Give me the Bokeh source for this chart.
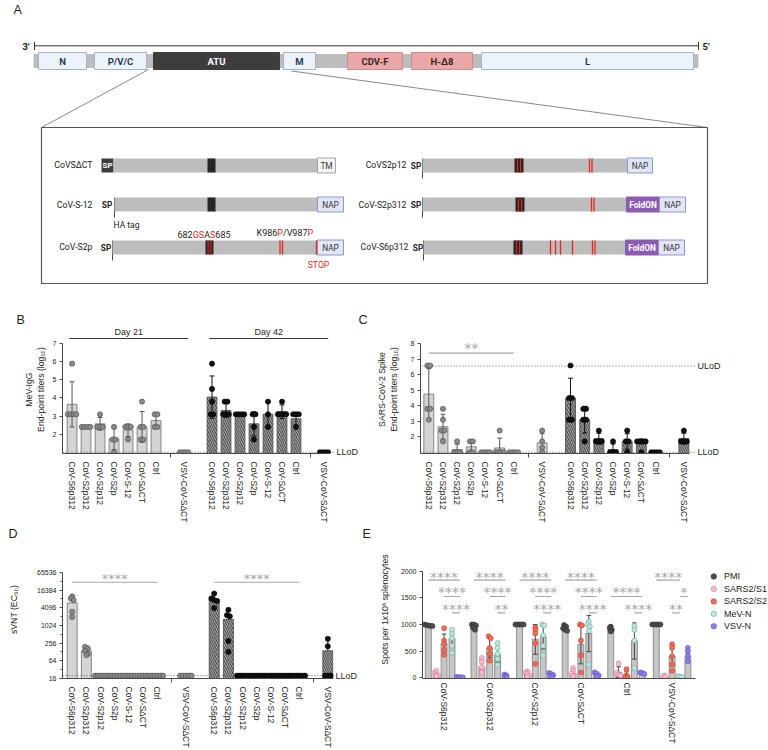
import math
from bokeh.plotting import figure
from bokeh.layouts import column, row
from bokeh.models import Range1d, FixedTicker, LinearAxis, LogAxis
from bokeh.core.properties import value
from bokeh.embed import file_html
from bokeh.resources import INLINE

SANS = "Liberation Sans"
ROBO = "Roboto"
STAR = "DejaVu Sans"

# ---------------- data ----------------
categories = ["CoV-S6p312", "CoV-S2p312", "CoV-S2p12", "CoV-S2p", "CoV-S-12",
              "CoV-SΔCT", "Ctrl", "VSV-CoV-SΔCT"]

# Panel B: MeV IgG end-point titers (log10)
B_d21_points = [[5.9, 3.1, 3.1, 3.1, 3.1], [2.4, 2.4, 2.4, 2.4], [3.1, 2.4, 2.4, 2.4],
                [2.4, 1.7, 1.7, 1.0], [2.4, 2.4, 2.4, 1.7], [3.8, 2.4, 2.4, 1.7, 1.7],
                [3.1, 3.1, 2.4, 2.4], [1.0, 1.0, 1.0, 1.0]]
B_d21_mean = [3.65, 2.4, 2.57, 1.74, 2.22, 2.4, 2.75, 1.0]
B_d21_sd = [1.25, 0.0, 0.35, 0.6, 0.35, 0.85, 0.4, 0.0]
B_d42_points = [[5.9, 4.5, 3.8, 3.1, 3.1], [3.8, 3.8, 3.1, 3.1, 3.1], [3.1, 3.1, 3.1, 3.1],
                [3.1, 3.1, 2.4, 1.7], [3.8, 3.1, 2.4], [3.8, 3.1, 3.1, 3.1, 3.1],
                [3.1, 3.1, 3.1, 2.4], [1.0, 1.0, 1.0, 1.0]]
B_d42_mean = [4.05, 3.31, 3.1, 2.57, 3.1, 3.24, 2.85, 1.0]
B_d42_sd = [1.17, 0.38, 0.0, 0.67, 0.7, 0.38, 0.35, 0.0]
B_lod = 1.0

# Panel C: SARS-CoV-2 Spike end-point titers (log10)
C_d21_points = [[6.6, 6.6, 3.8, 3.8, 3.1], [3.8, 3.1, 2.4, 2.4, 1.7], [1.7, 1.0, 1.0, 1.0],
                [1.7, 1.7, 1.0, 1.0], [1.0, 1.0, 1.0, 1.0], [2.4, 1.0, 1.0, 1.0, 1.0],
                [1.0, 1.0, 1.0, 1.0], [2.4, 1.7, 1.3, 1.0]]
C_d21_mean = [4.75, 2.65, 1.17, 1.35, 1.0, 1.28, 1.0, 1.6]
C_d21_sd = [1.65, 0.8, 0.35, 0.4, 0.0, 0.63, 0.0, 0.6]
C_d42_points = [[6.6, 4.5, 4.5, 3.1, 3.1], [3.8, 3.8, 3.1, 3.1, 1.7], [2.4, 1.7, 1.7, 1.7],
                [1.7, 1.0, 1.0, 1.0], [2.4, 1.7, 1.7, 1.0], [1.7, 1.7, 1.7, 1.7, 1.0],
                [1.0, 1.0, 1.0, 1.0], [2.4, 1.7, 1.7, 1.7]]
C_d42_mean = [4.5, 3.1, 1.88, 1.18, 1.7, 1.7, 1.0, 1.88]
C_d42_sd = [1.28, 0.86, 0.35, 0.35, 0.5, 0.15, 0.0, 0.35]
C_lod, C_ulod = 1.0, 6.56

# Panel D: sVNT EC50
D_d21_points = [[10000, 8500, 7500, 3000, 2000], [190, 170, 140, 110, 100],
                [20, 20, 20, 20, 20], [20, 20, 20, 20, 20], [20, 20, 20, 20, 20],
                [20, 20, 20, 20, 20], [20, 20, 20, 20, 20], [20, 20, 20, 20, 20]]
D_d21_mean = [6000, 140, 20, 20, 20, 20, 20, 20]
D_d21_sd = [4600, 45, 0, 0, 0, 0, 0, 0]
D_d42_points = [[12500, 8500, 7500, 7000, 4000], [3500, 2300, 2100, 300, 130],
                [20, 20, 20, 20, 20], [20, 20, 20, 20, 20], [20, 20, 20, 20, 20],
                [20, 20, 20, 20, 20], [20, 20, 20, 20, 20], [360, 200, 20, 20, 20]]
D_d42_mean = [7700, 1650, 20, 20, 20, 20, 20, 140]
D_d42_sd = [5300, 1900, 0, 0, 0, 0, 0, 260]
D_lod = 20
D_ticks = [16, 64, 256, 1024, 4096, 16384, 65536]
D_minor = [32, 128, 512, 2048, 8192, 32768]

# Panel E: ELISpot
E_groups = ["CoV-S6p312", "CoV-S2p312", "CoV-S2p12", "CoV-SΔCT", "Ctrl", "VSV-CoV-SΔCT"]
E_antigens = ["PMI", "SARS2/S1", "SARS2/S2", "MeV-N", "VSV-N"]
E_fill = ["#4d4d4d", "#f7bcd0", "#f26b55", "#bfe6df", "#8d80ee"]
E_edge = ["#2e2e2e", "#d8769a", "#c2412c", "#5fa99d", "#5b4fc4"]
E_mean = [[985, 70, 640, 740, 10], [965, 200, 560, 430, 30], [1000, 70, 720, 770, 50],
          [935, 80, 630, 830, 55], [920, 105, 50, 690, 85], [1000, 30, 410, 20, 390]]
E_sd = [[15, 40, 180, 140, 5], [35, 120, 175, 135, 20], [0, 40, 280, 230, 30],
        [40, 65, 370, 340, 35], [35, 100, 60, 340, 15], [0, 10, 190, 10, 100]]
E_points = [
    [[1000, 990, 980, 975, 970], [130, 90, 60, 40, 30], [930, 700, 640, 520, 430],
     [900, 820, 740, 600, 470], [15, 10, 8, 5]],
    [[1000, 1000, 980, 940, 900], [370, 300, 200, 110, 90], [780, 740, 560, 450, 320],
     [650, 560, 450, 350, 240], [60, 40, 20, 10]],
    [[1000, 1000, 1000, 1000, 1000], [120, 100, 70, 40, 20], [950, 900, 830, 650, 260],
     [1000, 980, 800, 600, 420], [90, 70, 50, 30, 10]],
    [[990, 960, 930, 900, 880], [180, 130, 80, 40, 20], [1000, 980, 700, 420, 100],
     [1050, 1000, 960, 880, 250], [100, 80, 40, 20]],
    [[960, 940, 900, 870], [270, 90, 60, 40], [160, 40, 20, 10], [970, 900, 700, 180],
     [100, 90, 70]],
    [[1000, 1000, 1000, 1000, 1000], [40, 30, 20], [630, 560, 400, 250, 130], [30, 20, 10],
     [560, 490, 410, 310]],
]
# significance brackets (group, row, from antigen, to antigen, label)
E_sig_group = [0, 0, 0, 1, 1, 1, 2, 2, 2, 3, 3, 3, 4, 4, 5, 5, 5]
E_sig_row = [0, 1, 2, 0, 1, 2, 0, 1, 2, 0, 1, 2, 1, 2, 0, 1, 2]
E_sig_from = [0, 2, 3, 0, 2, 3, 0, 2, 3, 0, 2, 3, 0, 3, 0, 3, 2]
E_sig_to = [4, 4, 4, 4, 4, 4, 4, 4, 4, 4, 4, 4, 4, 4, 3, 4, 3]
E_sig_text = ["****", "****", "****", "****", "****", "**", "****", "****", "****",
              "****", "****", "****", "****", "****", "****", "*", "**"]

# Panel A schematic (genome map, diagram units)
gene_names = ["N", "P/V/C", "ATU", "M", "CDV-F", "H-Δ8", "L"]
gene_start = [38, 94, 153, 283, 347, 411, 481]
gene_end = [86, 146, 279, 315, 402, 472, 693]
gene_kind = ["mev", "mev", "atu", "mev", "cdv", "cdv", "mev"]

# ---------------- helpers ----------------
KIND_FILL = {"mev": "#eef3fa", "atu": "#3d3d3d", "cdv": "#eba7a7"}
KIND_LINE = {"mev": "#9fb4cd", "atu": "#3d3d3d", "cdv": "#c98e8e"}
KIND_TEXT = {"mev": "#1e3a5c", "atu": "#ffffff", "cdv": "#3a2626"}
RED = "#e8261c"


def ptext(p, x, y, t, size=9, color="#222222", align="center", baseline="middle",
          font=ROBO, style="normal"):
    p.text(x=[x], y=[y], text=[t], text_font=value(font), text_font_size=f"{size}px",
           text_color=color, text_align=align, text_baseline=baseline,
           text_font_style=style)


ADV = {**{d: 0.562 for d in "0123456789"}, "G": 0.681, "S": 0.594, "A": 0.652,
       "K": 0.618, "P": 0.631, "V": 0.637, "/": 0.412}


def rich(p, x, y, pieces, size=9):
    cx = x
    for s, col in pieces:
        ptext(p, cx, y, s, size, col, align="left")
        cx += sum(ADV.get(ch, 0.6) for ch in s) * size


def canvas_fig(w, h, x0, x1, y0, y1):
    p = figure(width=w, height=h, x_range=Range1d(x0, x1), y_range=Range1d(y1, y0),
               x_axis_type=None, y_axis_type=None, output_backend="svg",
               toolbar_location=None, min_border=0)
    p.outline_line_color = None
    return p


# ---------------- Panel A ----------------
pa = canvas_fig(768, 325, 0, 768, 0, 325)

ptext(pa, 13, 9, "A", 12.5, "#222", align="left", font=SANS)
ptext(pa, 16, 319, "B", 12.5, "#222", align="left", font=SANS)
ptext(pa, 358, 319, "C", 12.5, "#222", align="left", font=SANS)

pa.segment(x0=[34], y0=[45.3], x1=[698], y1=[45.3], line_color="#333333", line_width=1)
pa.segment(x0=[34, 698], y0=[41.5, 41.5], x1=[34, 698], y1=[49.5, 49.5],
           line_color="#333333", line_width=1)
ptext(pa, 29, 46, "3'", 9.5, "#222", align="right", style="bold")
ptext(pa, 702, 46, "5'", 9.5, "#222", align="left", style="bold")
pa.quad(left=[33], right=[698], top=[53.5], bottom=[67.5], fill_color="#bdbdbd",
        line_color=None)
pa.quad(left=gene_start, right=gene_end, top=[52] * 7, bottom=[69] * 7,
        fill_color=[KIND_FILL[k] for k in gene_kind],
        line_color=[KIND_LINE[k] for k in gene_kind], line_width=1)
pa.text(x=[(a + b) / 2 for a, b in zip(gene_start, gene_end)], y=[60.8] * 7, text=gene_names,
        text_font=value(ROBO), text_font_size="9.5px", text_font_style="bold",
        text_color=[KIND_TEXT[k] for k in gene_kind], text_align="center",
        text_baseline="middle")

pa.segment(x0=[148, 291], y0=[69, 70.5], x1=[41, 707], y1=[127, 127],
           line_color="#6a6a6a", line_width=0.8)
pa.quad(left=[41], right=[707], top=[127], bottom=[283], fill_color=None,
        line_color="#555555", line_width=1.2)


def sbar(l, r, yc):
    pa.quad(left=[l], right=[r], top=[yc - 7], bottom=[yc + 7], fill_color="#bdbdbd",
            line_color=None)


def sblock(l, r, yc, red=True):
    pa.quad(left=[l], right=[r], top=[yc - 7], bottom=[yc + 7], fill_color="#262626",
            line_color=None)
    if red:
        xs = [l + (r - l) * 0.33, l + (r - l) * 0.67]
        pa.segment(x0=xs, y0=[yc - 7] * 2, x1=xs, y1=[yc + 7] * 2, line_color=RED,
                   line_width=1.1)


def sred(xs, yc):
    pa.segment(x0=xs, y0=[yc - 7] * len(xs), x1=xs, y1=[yc + 7] * len(xs),
               line_color=RED, line_width=1.3)


def stag(l, r, yc, name, kind):
    fills = {"TM": ("#f6f6f9", "#a3a3a8", "#333333"), "NAP": ("#e3e6f6", "#8d95c9", "#333333"),
             "FoldON": ("#8c5cb2", "#8c5cb2", "#ffffff")}
    f, lc, tc = fills[kind]
    pa.quad(left=[l], right=[r], top=[yc - 7.5], bottom=[yc + 7.5], fill_color=f,
            line_color=lc, line_width=1)
    ptext(pa, (l + r) / 2, yc + 0.3, name, 8.3, tc, style="bold" if kind == "FoldON" else "normal")


def sp_line(xt, xl, yc):
    ptext(pa, xt, yc, "SP", 8.3, "#222", style="bold")
    pa.segment(x0=[xl], y0=[yc - 7], x1=[xl], y1=[yc + 13], line_color="#444444",
               line_width=1)


# left column
y1, y2, y3 = 165, 204, 247
ptext(pa, 92, y1 - 1, "CoVSΔCT", 8.7, align="right")
pa.quad(left=[101], right=[113], top=[y1 - 7], bottom=[y1 + 7], fill_color="#3d3d3d",
        line_color=None)
ptext(pa, 107, y1 + 0.3, "SP", 8, "#ffffff", style="bold")
sbar(113, 317, y1)
sblock(207, 215, y1, red=False)
stag(317, 335, y1, "TM", "TM")

ptext(pa, 92, y2, "CoV-S-12", 8.7, align="right")
sp_line(106.5, 114, y2)
sbar(114, 317, y2)
sblock(207, 215, y2, red=False)
stag(317, 343, y2, "NAP", "NAP")
ptext(pa, 113, 224, "HA tag", 8.5, align="left")

ptext(pa, 92, y3 - 1, "CoV-S2p", 8.7, align="right")
sp_line(105.5, 112, y3)
sbar(112, 317, y3)
sblock(205, 213, y3)
sred([279.5, 282], y3)
sred([316], y3)
stag(317, 343, y3, "NAP", "NAP")
rich(pa, 177, 234, [("682", "#222"), ("GS", RED), ("A", "#222"), ("S", RED), ("685", "#222")])
rich(pa, 256, 232, [("K986", "#222"), ("P", RED), ("/V987", "#222"), ("P", RED)])
ptext(pa, 318, 264, "STOP", 8.7, RED)

# right column
ptext(pa, 406, y1 - 1, "CoVS2p12", 8.7, align="right")
sp_line(415.5, 422, y1)
sbar(422, 627, y1)
sblock(514, 523, y1)
sred([589, 591.5], y1)
stag(627, 652, y1, "NAP", "NAP")

ptext(pa, 406, y2, "CoV-S2p312", 8.7, align="right")
sp_line(415.5, 422, y2)
sbar(422, 627, y2)
sblock(515, 524, y2)
sred([591, 593.5], y2)
stag(626, 659, y2, "FoldON", "FoldON")
stag(659, 685, y2, "NAP", "NAP")

ptext(pa, 408, y3 - 1, "CoV-S6p312", 8.7, align="right")
sp_line(417.5, 423, y3)
sbar(423, 625, y3)
sblock(513, 522, y3)
sred([550, 555, 560, 572, 592, 594.5], y3)
stag(625, 658, y3, "FoldON", "FoldON")
stag(658, 684, y3, "NAP", "NAP")


# ---------------- chart helpers ----------------
def base_fig(w, h, xr, yr, ml, mr, mt, mb, ytype="linear"):
    p = figure(width=w, height=h, x_range=xr, y_range=yr, y_axis_type=ytype,
               output_backend="svg", toolbar_location=None,
               min_border_left=ml, min_border_right=mr, min_border_top=mt,
               min_border_bottom=mb)
    p.outline_line_color = None
    p.xgrid.visible = False
    p.ygrid.visible = False
    for ax in (p.xaxis[0], p.yaxis[0]):
        ax.axis_line_color = "#4a4a4a"
        ax.major_tick_line_color = "#4a4a4a"
        ax.minor_tick_line_color = "#4a4a4a"
        ax.major_label_text_font = SANS
        ax.major_label_text_font_size = "8.5px"
        ax.major_label_text_color = "#222222"
        ax.axis_label_text_font = SANS
        ax.axis_label_text_font_size = "8.7px"
        ax.axis_label_text_font_style = "normal"
        ax.axis_label_text_color = "#222222"
        ax.major_tick_in = 0
        ax.major_tick_out = 3
        ax.minor_tick_in = 0
        ax.minor_tick_out = 0
        ax.major_label_standoff = 3
    p.yaxis[0].major_label_text_font_size = "7px"
    return p


def lod_axis(p, ticks, labels, log=False):
    ax = (LogAxis if log else LinearAxis)(ticker=FixedTicker(ticks=ticks))
    ax.major_label_overrides = dict(zip(ticks, labels))
    ax.axis_line_color = None
    ax.major_tick_line_color = None
    ax.minor_tick_line_color = None
    ax.major_tick_out = 0
    ax.major_tick_in = 0
    ax.minor_tick_out = 0
    ax.major_label_standoff = 2
    ax.major_label_text_font = SANS
    ax.major_label_text_font_size = "9px"
    ax.major_label_text_color = "#222222"
    p.add_layout(ax, "right")


def cat_xaxis(p, ticks, labels, gaps, bounds):
    ax = p.xaxis[0]
    ax.ticker = FixedTicker(ticks=ticks, minor_ticks=gaps)
    ax.major_label_overrides = {t: l for t, l in zip(ticks, labels)}
    ax.major_label_orientation = "vertical"
    ax.major_tick_out = 0
    ax.minor_tick_out = 4
    ax.major_label_standoff = 4
    ax.bounds = bounds


def draw_bars(p, xs, tops, base, width, hatched):
    kw = dict(x=xs, top=tops, bottom=base, width=width, fill_color="#d4d4d4",
              line_color="#7a7a7a", line_width=0.9)
    if hatched:
        kw.update(hatch_pattern="left_diagonal_line", hatch_color="#3a3a3a",
                  hatch_scale=4.5, hatch_weight=1.2, fill_color="#d0d0d0",
                  line_color="#555555")
    p.vbar(**kw)


def draw_err(p, xs, means, sds, capw, color, up_only=False, floor=None):
    X0, Y0, Y1, CX0, CX1, CY = [], [], [], [], [], []
    for x, m, s in zip(xs, means, sds):
        if s <= 0:
            continue
        lo = m if up_only else m - s
        if floor is not None:
            lo = max(lo, floor)
        hi = m + s
        X0.append(x); Y0.append(lo); Y1.append(hi)
        CX0.append(x - capw / 2); CX1.append(x + capw / 2); CY.append(hi)
        if not up_only and (floor is None or m - s > floor):
            CX0.append(x - capw / 2); CX1.append(x + capw / 2); CY.append(m - s)
    p.segment(x0=X0, y0=Y0, x1=X0, y1=Y1, line_color=color, line_width=1)
    p.segment(x0=CX0, y0=CY, x1=CX1, y1=CY, line_color=color, line_width=1)


def swarm(xs, pts, step, key):
    X, Y = [], []
    for x, vals in zip(xs, pts):
        groups = {}
        for v in vals:
            groups.setdefault(key(v), []).append(v)
        for g in groups.values():
            n = len(g)
            for i, v in enumerate(g):
                X.append(x + (i - (n - 1) / 2) * step)
                Y.append(v)
    return X, Y


def draw_pts(p, xs, pts, step, fill, edge, size=5.2, key=lambda v: round(v, 1)):
    X, Y = swarm(xs, pts, step, key)
    p.scatter(X, Y, size=size, fill_color=fill, line_color=edge, line_width=0.6)


def stars(p, x, y, t, size=14):
    p.text(x=[x], y=[y], text=[t], text_font=value(STAR), text_font_size=f"{size}px",
           text_color="#a6a6a6", text_align="center", text_baseline="middle", y_offset=3)


x21 = list(range(7)) + [8]
x42 = [v + 10 for v in x21]
xticks = x21 + x42
xlabels = categories + categories
gap_ticks = [7, 17]
BW = 0.7

# ---------------- Panel B ----------------
pb = base_fig(361, 200, Range1d(-0.683, 18.75), Range1d(0.93, 8.01), ml=62, mr=23, mt=0, mb=72)
cat_xaxis(pb, xticks, xlabels, gap_ticks, (-0.683, 18.4))
pb.yaxis[0].ticker = FixedTicker(ticks=[2, 3, 4, 5, 6, 7])
pb.yaxis[0].bounds = (0.93, 7)
pb.yaxis[0].axis_label = "MeV-IgG\nEnd-point titers (log₁₀)"
pb.yaxis[0].axis_label_standoff = 4
lod_axis(pb, [B_lod], ["LLoD"])
draw_bars(pb, x21, B_d21_mean, 0.93, BW, False)
draw_bars(pb, x42, B_d42_mean, 0.93, BW, True)
pb.segment(x0=[-0.683], y0=[B_lod], x1=[18.75], y1=[B_lod], line_dash="1 2",
           line_color="#666666", line_width=1)
draw_err(pb, x21, B_d21_mean, B_d21_sd, 0.35, "#555555")
draw_err(pb, x42, B_d42_mean, B_d42_sd, 0.35, "#111111")
draw_pts(pb, x21, B_d21_points, 0.2, "#8a8a8a", "#4a4a4a")
draw_pts(pb, x42, B_d42_points, 0.2, "#111111", "#000000")
for xs, lab in ((x21, "Day 21"), (x42, "Day 42")):
    a, b = xs[0] - 0.2, xs[-1] + 0.3
    pb.segment(x0=[a], y0=[7.29], x1=[b], y1=[7.29], line_color="#333333", line_width=1)
    ptext(pb, (a + b) / 2, 7.63, lab, 9, font=SANS)

# ---------------- Panel C ----------------
pc = base_fig(407, 200, Range1d(-0.586, 18.82), Range1d(0.92, 9.18), ml=59, mr=73, mt=0, mb=72)
cat_xaxis(pc, xticks, xlabels, gap_ticks, (-0.586, 18.4))
pc.yaxis[0].ticker = FixedTicker(ticks=[2, 3, 4, 5, 6, 7, 8])
pc.yaxis[0].bounds = (0.92, 8)
pc.yaxis[0].axis_label = "SARS-CoV-2 Spike\nEnd-point titers (log₁₀)"
pc.yaxis[0].axis_label_standoff = 9
lod_axis(pc, [C_lod, C_ulod], ["LLoD", "ULoD"])
draw_bars(pc, x21, C_d21_mean, 0.92, BW, False)
draw_bars(pc, x42, C_d42_mean, 0.92, BW, True)
for yv in (C_ulod, C_lod):
    pc.segment(x0=[-0.586], y0=[yv], x1=[18.82], y1=[yv], line_dash="1 2",
               line_color="#666666", line_width=1)
draw_err(pc, x21, C_d21_mean, C_d21_sd, 0.35, "#555555")
draw_err(pc, x42, C_d42_mean, C_d42_sd, 0.35, "#111111")
draw_pts(pc, x21, C_d21_points, 0.2, "#8a8a8a", "#4a4a4a")
draw_pts(pc, x42, C_d42_points, 0.2, "#111111", "#000000")
pc.segment(x0=[x21[0]], y0=[7.4], x1=[x21[6]], y1=[7.4], line_color="#a6a6a6", line_width=1.2)
stars(pc, (x21[0] + x21[6]) / 2, 7.9, "**")

# ---------------- strip with panel letters D / E ----------------
pstrip = canvas_fig(768, 15, 0, 768, 525, 540)
ptext(pstrip, 8, 533, "D", 12.5, "#222", align="left", font=SANS)
ptext(pstrip, 362, 533, "E", 12.5, "#222", align="left", font=SANS)

# ---------------- Panel D ----------------
d_top = 2 ** (4 + 140 / 8.97)
pd_ = base_fig(361, 210, Range1d(-0.683, 18.4), Range1d(16, d_top), ml=62, mr=28, mt=0, mb=70,
               ytype="log")
cat_xaxis(pd_, xticks, xlabels, gap_ticks, (-0.683, 18.4))
pd_.yaxis[0].ticker = FixedTicker(ticks=D_ticks, minor_ticks=D_minor)
pd_.yaxis[0].major_label_overrides = {t: str(t) for t in D_ticks}
pd_.yaxis[0].minor_tick_out = 2
pd_.yaxis[0].bounds = (16, 65536)
pd_.yaxis[0].axis_label = "sVNT (EC₅₀)"
pd_.yaxis[0].axis_label_standoff = 15
lod_axis(pd_, [D_lod], ["LLoD"], log=True)
draw_bars(pd_, x21, D_d21_mean, 16, BW, False)
draw_bars(pd_, x42, D_d42_mean, 16, BW, True)
pd_.segment(x0=[-0.683], y0=[D_lod], x1=[18.4], y1=[D_lod], line_dash="1 2",
            line_color="#666666", line_width=1)
draw_err(pd_, x21, D_d21_mean, D_d21_sd, 0.35, "#555555", up_only=True)
draw_err(pd_, x42, D_d42_mean, D_d42_sd, 0.35, "#111111", up_only=True)
lkey = lambda v: round(math.log2(v) * 2)
draw_pts(pd_, x21, D_d21_points, 0.2, "#8a8a8a", "#4a4a4a", key=lkey)
draw_pts(pd_, x42, D_d42_points, 0.2, "#111111", "#000000", key=lkey)
for xs in (x21, x42):
    pd_.segment(x0=[xs[0]], y0=[30260], x1=[xs[6]], y1=[30260], line_color="#a6a6a6",
                line_width=1.2)
    stars(pd_, (xs[0] + xs[6]) / 2, 53000, "****", 13)

# ---------------- Panel E ----------------
E_step = 0.173
pe = base_fig(407, 210, Range1d(-0.474, 7.114), Range1d(-15, 2578), ml=61, mr=0, mt=0, mb=70)
ax = pe.xaxis[0]
ax.ticker = FixedTicker(ticks=list(range(len(E_groups))))
ax.major_label_overrides = {i: g for i, g in enumerate(E_groups)}
ax.major_label_orientation = "vertical"
ax.major_tick_out = 0
ax.major_label_standoff = 4
ax.bounds = (-0.474, 5.52)
pe.yaxis[0].ticker = FixedTicker(ticks=[0, 500, 1000, 1500, 2000])
pe.yaxis[0].bounds = (-15, 2000)
pe.yaxis[0].axis_label = "Spots per 1x10⁶ splenocytes"
pe.yaxis[0].axis_label_standoff = 8

bx, bt = [], []
for g in range(len(E_groups)):
    for a in range(len(E_antigens)):
        bx.append(g + (a - 2) * E_step)
        bt.append(E_mean[g][a])
pe.vbar(x=bx, top=bt, bottom=-15, width=0.13, fill_color="#c6c6c6", line_color="#7c7c7c",
        line_width=0.8)
bsd = [E_sd[g][a] for g in range(len(E_groups)) for a in range(len(E_antigens))]
draw_err(pe, bx, bt, bsd, 0.1, "#444444", floor=0)
ekey = lambda v: round(v / 70)
for a in range(len(E_antigens)):
    xs = [g + (a - 2) * E_step for g in range(len(E_groups))]
    draw_pts(pe, xs, [E_points[g][a] for g in range(len(E_groups))], 0.045,
             E_fill[a], E_edge[a], size=5, key=ekey)

row_line = [1833, 1526, 1217]
row_star = [1957, 1667, 1341]
for g, r, f, t, s in zip(E_sig_group, E_sig_row, E_sig_from, E_sig_to, E_sig_text):
    xa = g + (f - 2) * E_step
    xb = g + (t - 2) * E_step
    pe.segment(x0=[xa], y0=[row_line[r]], x1=[xb], y1=[row_line[r]], line_color="#a6a6a6",
               line_width=1.2)
    stars(pe, (xa + xb) / 2, row_star[r], s, 14)

leg_y = [1902, 1668, 1434, 1200, 966]
pe.scatter([5.914] * 5, leg_y, size=5.5, fill_color=E_fill, line_color=E_edge, line_width=0.6)
pe.text(x=[6.14] * 5, y=leg_y, text=E_antigens, text_font=value(SANS), text_font_size="9px",
        text_color="#222222", text_align="left", text_baseline="middle")

layout = column(pa, row(pb, pc), pstrip, row(pd_, pe))
open("out.html", "w").write(file_html(layout, INLINE))
